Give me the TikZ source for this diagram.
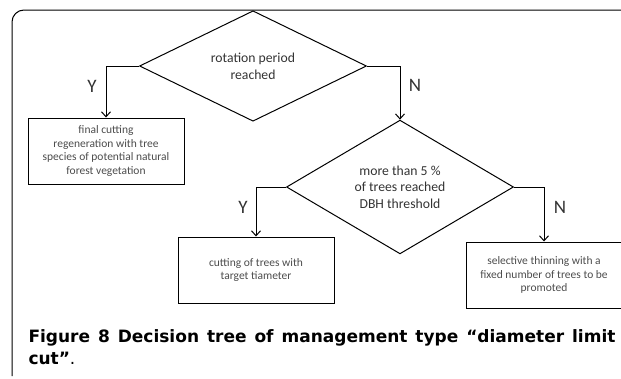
\documentclass[tikz,border=0pt]{standalone}
\usepackage{fontspec}
\setmainfont{Carlito}
\newfontfamily\capfont{DejaVu Sans}
\usetikzlibrary{shapes.geometric,arrows.meta}

\begin{document}
\begin{tikzpicture}[x=1pt,y=-1pt,line width=1pt,
    decision/.style={draw,diamond,inner sep=0pt,minimum width=227pt,minimum height=82pt,
      align=center,text=black!80,font=\fontsize{13.7}{16.7}\selectfont},
    action/.style={draw,rectangle,inner sep=0pt,minimum width=156pt,minimum height=66pt,
      align=center,text=black!70,font=\fontsize{11.5}{13.6}\selectfont},
    answer/.style={text=black!80,inner sep=0pt,font=\fontsize{19}{19}\selectfont},
    flow/.style={-{Straight Barb[length=5pt,width=9pt]}}]
      \useasboundingbox (0,0) rectangle (621,378);
      % frame of the figure
      \draw[rounded corners=12pt] (12,376) -- (12,10) -- (630,10);
      % decisions
      \node[decision] (rotation) at (253,66) {rotation period\\reached};
      \node[decision,minimum height=86pt] (dbh) at (400,187)
        {more than 5 \%\\of trees reached\\DBH threshold};
      % actions
      \node[action] (final) at (106,151)
        {final cutting\\regeneration with tree\\species of potential natural\\forest vegetation};
      \node[action] (target) at (256,270) {cutting of trees with\\target tiameter};
      \node[action] (thinning) at (544,275)
        {selective thinning with a\\fixed number of trees to be\\promoted};
      % branches
      \draw[flow] (rotation.west) -| (final.north);
      \draw[flow] (rotation.east) -| (dbh.north);
      \draw[flow] (dbh.west) -| (target.north);
      \draw[flow] (dbh.east) -| (thinning.north);
      \node[answer] (y1) at (92,86) {Y};
      \node[answer] (n1) at (415,85) {N};
      \node[answer] (y2) at (243,207) {Y};
      \node[answer] (n2) at (560,207) {N};
      % caption
      \node[anchor=base west,inner sep=0pt,font=\capfont\fontsize{17}{22}\selectfont] (cap1) at (28,342)
        {\makebox[587pt][s]{\bfseries Figure 8 Decision tree of management type “diameter limit}};
      \node[anchor=base west,inner sep=0pt,font=\capfont\fontsize{17}{22}\selectfont] (cap2) at (28,364)
        {\textbf{cut”}.};
    \end{tikzpicture}
\end{document}
